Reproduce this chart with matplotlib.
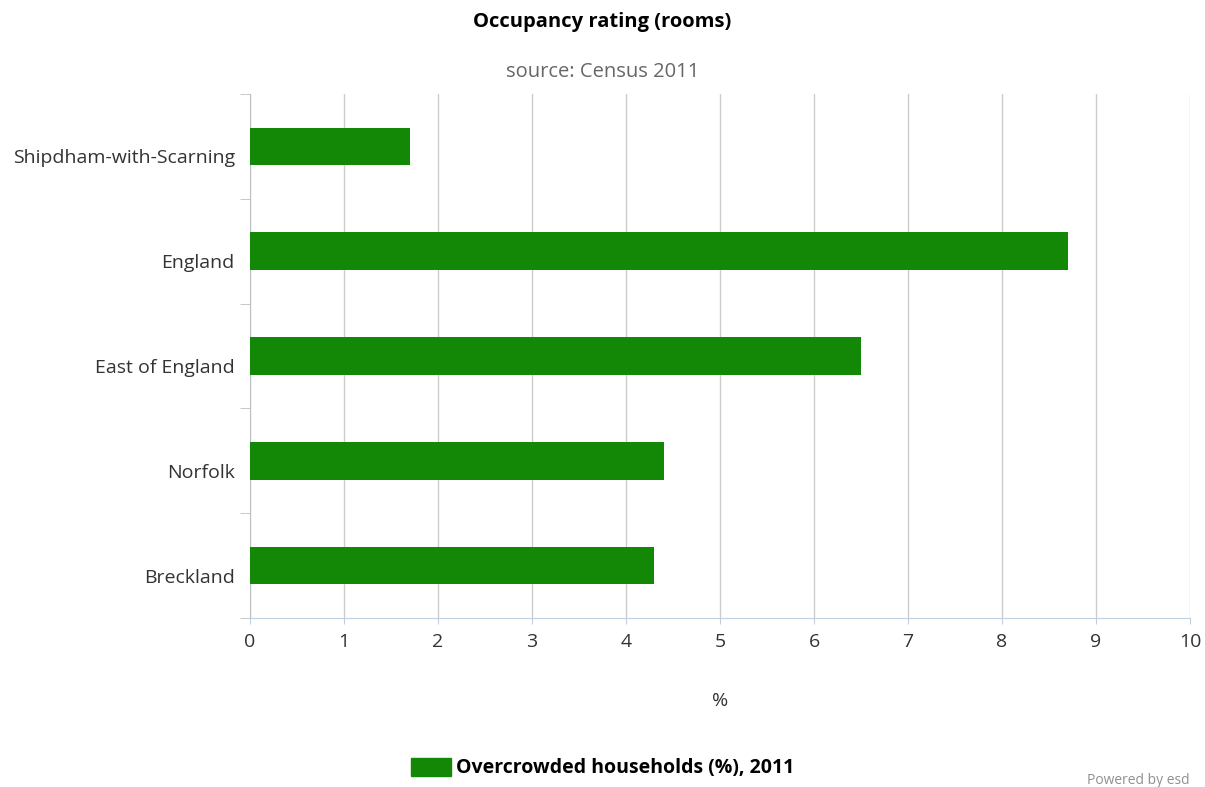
import matplotlib
matplotlib.use('Agg')
import matplotlib.pyplot as plt
import matplotlib.transforms as mtransforms
from matplotlib.patches import Patch

areas = ['Shipdham-with-Scarning', 'England', 'East of England', 'Norfolk', 'Breckland']
values = [1.7, 8.7, 6.5, 4.4, 4.3]
series_name = 'Overcrowded households (%), 2011'
bar_color = '#138807'

plt.rcParams['font.family'] = ['Open Sans', 'DejaVu Sans']

fig = plt.figure(figsize=(12.05, 7.87), dpi=100)
ax = fig.add_axes([250 / 1205, 1 - 618 / 787, 940 / 1205, 524 / 787])

ypos = list(range(len(areas)))
ax.barh(ypos, values, height=0.36, color=bar_color, zorder=3)
ax.set_ylim(len(areas) - 0.5, -0.5)
ax.set_xlim(0, 10)
ax.set_xticks(range(0, 11))
ax.set_yticks(ypos)
ax.set_yticklabels(areas)
ax.set_yticks([i - 0.5 for i in range(len(areas) + 1)], minor=True)

ax.grid(axis='x', color='#cccccc', linewidth=1, zorder=0)
for s in ['top', 'right']:
    ax.spines[s].set_visible(False)
ax.spines['left'].set_color('#c0c0c0')
ax.spines['bottom'].set_color('#c0d0e0')
ax.tick_params(axis='y', which='major', length=0, labelsize=14, labelcolor='#333333', pad=11)
ax.tick_params(axis='y', which='minor', length=7.2, color='#c0c0c0')
ax.tick_params(axis='x', length=4, color='#c0d0e0', labelsize=14, labelcolor='#333333', pad=7)

# category labels sit a little below the bar centre
shift = mtransforms.ScaledTranslation(0, -0.1, fig.dpi_scale_trans)
for lbl in ax.get_yticklabels():
    lbl.set_transform(lbl.get_transform() + shift)

ax.set_xlabel('%', fontsize=14, color='#333333', labelpad=29)

fig.text(0.5, 1 - 22 / 787, 'Occupancy rating (rooms)', ha='center', va='center',
         fontsize=14.5, fontweight='bold', color='#000000')
fig.text(0.5, 1 - 72 / 787, 'source: Census 2011', ha='center', va='center',
         fontsize=14.5, color='#666666')

leg = fig.legend(handles=[Patch(color=bar_color, label=series_name)],
                 loc='center', bbox_to_anchor=(0.5, 1 - 768 / 787), frameon=False,
                 prop={'size': 14, 'weight': 'bold'}, handlelength=2.05, handleheight=1.05,
                 handletextpad=0.26)

fig.text(1190 / 1205, 1 - 780 / 787, 'Powered by esd', ha='right', va='center',
         fontsize=10, color='#909090')

fig.savefig('out.png', dpi=100)
